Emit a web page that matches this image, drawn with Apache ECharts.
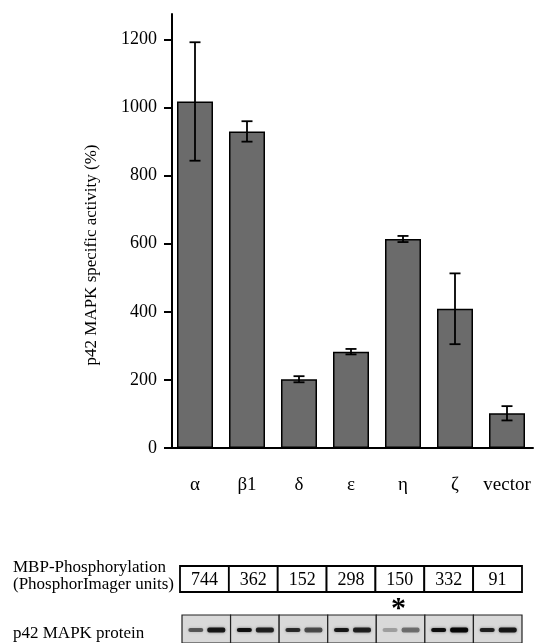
<!DOCTYPE html>
<html>
<head>
<meta charset="utf-8">
<script src="https://cdn.jsdelivr.net/npm/echarts@6/dist/echarts.min.js"></script>
<style>
html,body{margin:0;padding:0;background:#fff;}
#chart{width:534px;height:643px;}
</style>
</head>
<body>
<div id="chart"></div>
<script>
// ---- data ----
var categories = ['α', 'β1', 'δ', 'ε', 'η', 'ζ', 'vector'];
var activity = [1018, 930, 202, 283, 614, 409, 102];
var activityErr = [174, 30, 9, 8, 9, 104, 21];
var yTicks = [0, 200, 400, 600, 800, 1000, 1200];
var mbpUnits = [744, 362, 152, 298, 150, 332, 91];
// blot band darkness (0..1), two lanes per construct
var bandLeft = [0.55, 0.9, 0.75, 0.85, 0.25, 0.9, 0.8];
var bandRight = [0.85, 0.8, 0.6, 0.8, 0.45, 0.95, 0.85];
var laneMarks = ['', '', '', '', '*', '', ''];

var FONT = '"Liberation Serif", "Times New Roman", serif';
var chart = echarts.init(document.getElementById('chart'));

var errData = activity.map(function (v, i) { return [i, v, activityErr[i]]; });
var idx = categories.map(function (c, i) { return [i, 0.5]; });

chart.setOption({
  animation: false,
  grid: [
    { left: 169, width: 364, top: 14, bottom: 195 },
    { left: 180, width: 342, top: 566, height: 26 },
    { left: 182, width: 340, top: 615, height: 30 }
  ],
  xAxis: [
    {
      gridIndex: 0, type: 'category', data: categories,
      axisLine: { lineStyle: { color: '#000', width: 2 } },
      axisTick: { alignWithLabel: true, length: 6, lineStyle: { color: '#000', width: 2 } },
      axisLabel: { color: '#000', fontFamily: FONT, fontSize: 19, margin: 28, interval: 0 }
    },
    { gridIndex: 1, type: 'category', data: categories, show: false },
    { gridIndex: 2, type: 'category', data: categories, show: false }
  ],
  yAxis: [
    {
      gridIndex: 0, type: 'value', min: 0, max: 1275, offset: -3,
      splitLine: { show: false },
      axisLine: { show: true, lineStyle: { color: '#000', width: 2 } },
      axisTick: { show: true, length: 8, customValues: yTicks, lineStyle: { color: '#000', width: 2 } },
      axisLabel: { color: '#000', fontFamily: FONT, fontSize: 18, margin: 15, customValues: yTicks,
        formatter: function (v) { return String(v); } }
    },
    { gridIndex: 1, type: 'value', min: 0, max: 1, show: false },
    { gridIndex: 2, type: 'value', min: 0, max: 1, show: false }
  ],
  series: [
    {
      type: 'bar', xAxisIndex: 0, yAxisIndex: 0, data: activity, barWidth: 36,
      itemStyle: { color: '#6b6b6b', borderColor: '#000', borderWidth: 1.5 }
    },
    {
      type: 'custom', xAxisIndex: 0, yAxisIndex: 0, data: errData, z: 10,
      renderItem: function (params, api) {
        var i = api.value(0), v = api.value(1), e = api.value(2);
        var top = api.coord([i, v + e]);
        var bot = api.coord([i, v - e]);
        var x = top[0], hw = 5.5;
        var st = { stroke: '#000', lineWidth: 1.8 };
        return { type: 'group', children: [
          { type: 'line', shape: { x1: x, y1: top[1], x2: x, y2: bot[1] }, style: st },
          { type: 'line', shape: { x1: x - hw, y1: top[1], x2: x + hw, y2: top[1] }, style: st },
          { type: 'line', shape: { x1: x - hw, y1: bot[1], x2: x + hw, y2: bot[1] }, style: st }
        ]};
      }
    },
    {
      type: 'custom', xAxisIndex: 1, yAxisIndex: 1, data: idx,
      renderItem: function (params, api) {
        var i = params.dataIndex;
        var c = api.coord([i, 0.5]);
        var w = api.size([1, 0])[0];
        var cs = params.coordSys;
        return { type: 'group', children: [
          { type: 'rect', shape: { x: c[0] - w / 2, y: cs.y, width: w, height: cs.height },
            style: { fill: '#fff', stroke: '#000', lineWidth: 1.8 } },
          { type: 'text', x: c[0], y: cs.y + cs.height / 2 + 1,
            style: { text: String(mbpUnits[i]), fill: '#000', font: '18px ' + FONT, align: 'center', verticalAlign: 'middle' } }
        ]};
      }
    },
    {
      type: 'custom', xAxisIndex: 2, yAxisIndex: 2, data: idx,
      renderItem: function (params, api) {
        var i = params.dataIndex;
        var c = api.coord([i, 0.5]);
        var w = api.size([1, 0])[0];
        var cs = params.coordSys;
        var by = cs.y + 15;
        var ch = [
          { type: 'rect', shape: { x: c[0] - w / 2, y: cs.y, width: w, height: cs.height },
            style: { fill: '#d9d9d9', stroke: '#222', lineWidth: 1.2 } },
          { type: 'rect', shape: { x: c[0] - 18, y: by - 2, width: 15, height: 4, r: 2 },
            style: { fill: 'rgba(0,0,0,' + bandLeft[i] + ')', shadowBlur: 3, shadowColor: 'rgba(0,0,0,' + bandLeft[i] * 0.6 + ')' } },
          { type: 'rect', shape: { x: c[0] + 1, y: by - 2.5, width: 18, height: 5, r: 2 },
            style: { fill: 'rgba(0,0,0,' + bandRight[i] + ')', shadowBlur: 3, shadowColor: 'rgba(0,0,0,' + bandRight[i] * 0.6 + ')' } }
        ];
        if (laneMarks[i]) {
          ch.push({ type: 'text', x: c[0] - 2, y: cs.y - 6,
            style: { text: laneMarks[i], fill: '#000', font: 'bold 30px ' + FONT, align: 'center', verticalAlign: 'middle' } });
        }
        return { type: 'group', children: ch };
      }
    }
  ],
  graphic: [
    { type: 'text', x: 92, y: 255, rotation: Math.PI / 2, origin: [0, 0],
      style: { text: 'p42 MAPK specific activity (%)', fill: '#000', font: '17px ' + FONT, align: 'center', verticalAlign: 'middle' } },
    { type: 'text', x: 13, y: 568,
      style: { text: 'MBP-Phosphorylation', fill: '#000', font: '17px ' + FONT, verticalAlign: 'middle' } },
    { type: 'text', x: 13, y: 585,
      style: { text: '(PhosphorImager units)', fill: '#000', font: '17px ' + FONT, verticalAlign: 'middle' } },
    { type: 'text', x: 13, y: 634,
      style: { text: 'p42 MAPK protein', fill: '#000', font: '17px ' + FONT, verticalAlign: 'middle' } }
  ]
});
</script>
</body>
</html>
